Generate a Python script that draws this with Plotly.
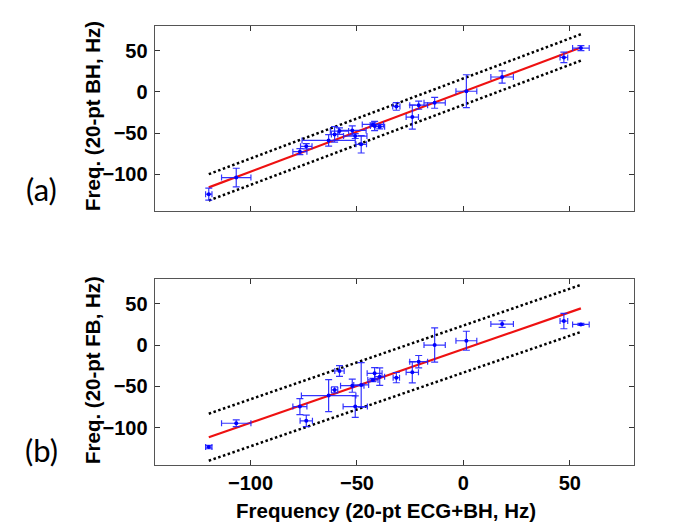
import plotly.graph_objects as go

# Shared x values (20-pt ECG+BH, Hz) and x errors
x_vals = [-119.6, -106.7, -76.8, -73.8, -63.3, -60.5, -58.2, -52.2, -50.8, -48.0,
          -42.5, -41.7, -39.3, -31.5, -24.0, -21.0, -13.5, 1.4, 18.2, 47.2, 55.2]
x_err = [1.5, 6.9, 3.3, 2.7, 12.5, 1.5, 4.3, 6.5, 5.5, 2.5,
         5.0, 2.0, 2.3, 1.7, 2.9, 4.2, 5.0, 4.9, 5.3, 1.8, 3.9]

# Panel (a): 20-pt BH
ya_vals = [-124.2, -104.0, -72.6, -66.1, -58.9, -51.6, -47.6, -46.8, -53.6, -63.7,
           -39.5, -41.5, -42.3, -17.7, -30.6, -16.1, -13.3, 0.8, 18.1, 41.9, 53.2]
ya_err = [7.3, 11.3, 3.6, 3.2, 7.0, 9.5, 4.0, 5.6, 3.0, 10.5,
          2.0, 5.6, 2.5, 4.6, 14.7, 5.0, 6.6, 20.0, 7.5, 6.3, 3.0]

# Panel (b): 20-pt FB
x_err_b = [1.5, 6.9, 3.3, 2.9, 12.8, 1.5, 2.2, 5.5, 5.7, 3.5,
           2.4, 3.5, 2.3, 1.5, 2.9, 4.2, 5.0, 4.9, 5.3, 1.8, 3.9]
yb_vals = [-123.7, -94.8, -74.6, -91.9, -61.3, -54.4, -31.5, -49.2, -74.6, -48.4,
           -42.3, -34.3, -38.3, -39.5, -33.1, -20.2, 0.0, 5.2, 25.4, 29.0, 25.0]
yb_err = [2.0, 4.0, 9.7, 7.0, 19.5, 3.6, 6.6, 8.0, 13.0, 27.0,
          2.0, 7.0, 10.5, 6.2, 12.7, 7.5, 20.8, 11.5, 4.0, 9.3, 1.2]

# Fit lines: slope, intercept, band half-width, x extent
fit_x = [-119.6, 55.2]
fit_a = {"slope": 0.972, "intercept": 0.3, "band": 16.0}
fit_b = {"slope": 0.893, "intercept": -4.9, "band": 28.5}

axis_range = [-145, 80]
tick_vals = [-100, -50, 0, 50]

BLUE = "#0000ff"
EBLUE = "rgba(30,30,255,0.9)"
FRAME = "#555555"

fig = go.Figure()


def add_panel(xv, xe, yv, ye, fit, xa, ya):
    line_y = [fit["slope"] * x + fit["intercept"] for x in fit_x]
    up = [v + fit["band"] for v in line_y]
    lo = [v - fit["band"] for v in line_y]
    for yy in (up, lo):
        fig.add_trace(go.Scatter(x=fit_x, y=yy, mode="lines", xaxis=xa, yaxis=ya,
                                 line=dict(color="black", width=2.5, dash="2.5px,2.5px"),
                                 showlegend=False, hoverinfo="skip"))
    fig.add_trace(go.Scatter(x=fit_x, y=line_y, mode="lines", xaxis=xa, yaxis=ya,
                             line=dict(color="#ee1111", width=2.2),
                             showlegend=False, hoverinfo="skip"))
    fig.add_trace(go.Scatter(
        x=xv, y=yv, mode="markers", xaxis=xa, yaxis=ya,
        marker=dict(color=BLUE, size=4),
        error_x=dict(type="data", array=xe, visible=True, color=EBLUE, thickness=1.2, width=3),
        error_y=dict(type="data", array=ye, visible=True, color=EBLUE, thickness=1.2, width=3.5),
        showlegend=False))


add_panel(x_vals, x_err, ya_vals, ya_err, fit_a, "x", "y")
add_panel(x_vals, x_err_b, yb_vals, yb_err, fit_b, "x2", "y2")

W, H = 685, 525
xdom = [146.7 / W, 625.7 / W]
ydom_a = [1 - 203.3 / H, 1 - 18 / H]
ydom_b = [1 - 456.7 / H, 1 - 271 / H]

tickfont = dict(family="Liberation Sans, Arial, sans-serif", size=20, color="black", weight="bold")
axcommon = dict(range=axis_range, tickvals=tick_vals, ticks="inside", ticklen=5,
                tickcolor="#333333", tickwidth=1, showline=True, linecolor=FRAME,
                linewidth=1.2, mirror="ticks", showgrid=False, zeroline=False,
                tickfont=tickfont, fixedrange=True)

fig.update_layout(
    width=W, height=H,
    margin=dict(l=0, r=0, t=0, b=0),
    paper_bgcolor="white", plot_bgcolor="white",
    xaxis=dict(domain=xdom, anchor="y", showticklabels=False, **axcommon),
    yaxis=dict(domain=ydom_a, anchor="x", ticklabelstandoff=2, **axcommon),
    xaxis2=dict(domain=xdom, anchor="y2", **axcommon),
    yaxis2=dict(domain=ydom_b, anchor="x2", ticklabelstandoff=2, **axcommon),
)

title_font = dict(family="Liberation Sans, Arial, sans-serif", size=20.5, color="black", weight="bold")
label_font = dict(family="Lato, Open Sans, sans-serif", size=31, color="black")

annotations = [
    dict(text="Frequency (20-pt ECG+BH, Hz)", x=377.5 / W, y=1 - 502 / H, font=title_font),
    dict(text="Freq. (20-pt BH, Hz)", x=84 / W, y=1 - 108 / H, font=title_font, textangle=-90),
    dict(text="Freq. (20-pt FB, Hz)", x=84 / W, y=1 - 362 / H, font=title_font, textangle=-90),
    dict(text="(a)", x=33 / W, y=1 - 181 / H, font=label_font),
    dict(text="(b)", x=33 / W, y=1 - 442 / H, font=label_font),
]
for a in annotations:
    a.update(xref="paper", yref="paper", showarrow=False, xanchor="center", yanchor="middle")
fig.update_layout(annotations=annotations)

fig.write_html("out.html")
